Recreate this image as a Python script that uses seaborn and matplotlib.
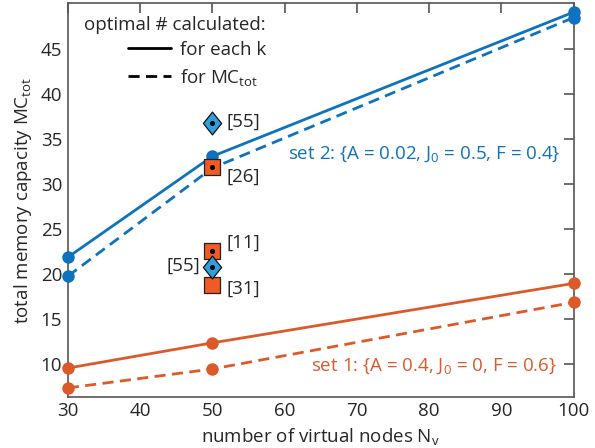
import matplotlib
matplotlib.use("Agg")
import matplotlib.pyplot as plt
from matplotlib.lines import Line2D
from matplotlib.path import Path
import seaborn as sns
import pandas as pd

# ---- data ----
nodes = [30, 50, 100]
set2_each = [21.9, 33.1, 49.1]
set2_mctot = [19.8, 31.8, 48.5]
set1_each = [9.6, 12.4, 19.0]
set1_mctot = [7.4, 9.5, 16.9]

sq_x = [50, 50, 50]
sq_y = [31.9, 22.6, 18.8]
sq_labels = ["[26]", "[11]", "[31]"]
sq_dot = [True, True, False]

dm_x = [50, 50]
dm_y = [36.8, 20.8]
dm_labels = ["[55]", "[55]"]

xticks = [30, 40, 50, 60, 70, 80, 90, 100]
yticks = [10, 15, 20, 25, 30, 35, 40, 45]

BLUE = "#0f72bd"
ORANGE = "#dc5a2a"
SQ_ORANGE = "#f05a24"
DM_BLUE = "#2e9fdc"

sns.set_style("white")
plt.rcParams["font.family"] = ["Open Sans", "DejaVu Sans"]
plt.rcParams["mathtext.fontset"] = "custom"
plt.rcParams["mathtext.rm"] = "Open Sans"
plt.rcParams["mathtext.it"] = "Open Sans"

rows = []
for s, each, mct in [("set2", set2_each, set2_mctot), ("set1", set1_each, set1_mctot)]:
    for x, y in zip(nodes, each):
        rows.append(dict(N=x, MC=y, set=s, kind="each"))
    for x, y in zip(nodes, mct):
        rows.append(dict(N=x, MC=y, set=s, kind="mctot"))
df = pd.DataFrame(rows)

fig = plt.figure(figsize=(5.95, 4.48), dpi=100)
ax = fig.add_axes([0.114, 0.114, 0.850, 0.879])

lw = 2.0
DASH = (4.0, 2.3)
for s, col in [("set2", BLUE), ("set1", ORANGE)]:
    sub = df[df["set"] == s]
    sns.lineplot(data=sub, x="N", y="MC", style="kind",
                 dashes={"each": "", "mctot": DASH},
                 color=col, lw=lw, marker="o", markersize=9,
                 markeredgewidth=0, legend=False, ax=ax, zorder=3,
                 clip_on=False)

diamond = Path([(0, 1), (0.8, 0), (0, -1), (-0.8, 0), (0, 1)],
               [Path.MOVETO, Path.LINETO, Path.LINETO, Path.LINETO, Path.CLOSEPOLY])

refs_sq = pd.DataFrame(dict(N=sq_x, MC=sq_y))
refs_dm = pd.DataFrame(dict(N=dm_x, MC=dm_y))
sns.scatterplot(data=refs_sq, x="N", y="MC", marker="s", s=145,
                color=SQ_ORANGE, edgecolor="#222222", linewidth=0.9,
                ax=ax, zorder=5, legend=False)
sns.scatterplot(data=refs_dm, x="N", y="MC", marker=diamond, s=270,
                color=DM_BLUE, edgecolor="#111111", linewidth=0.9,
                ax=ax, zorder=5, legend=False)
dots_x = [x for x, d in zip(sq_x, sq_dot) if d] + dm_x
dots_y = [y for y, d in zip(sq_y, sq_dot) if d] + dm_y
ax.scatter(dots_x, dots_y, s=7, color="black", zorder=6)

fs = 13.5
offsets_sq = [(14, -10), (14, 8), (14, -4)]
for x, y, t, off in zip(sq_x, sq_y, sq_labels, offsets_sq):
    ax.annotate(t, (x, y), xytext=off, textcoords="offset pixels",
                ha="left", va="center", fontsize=fs)
ax.annotate(dm_labels[0], (dm_x[0], dm_y[0]), xytext=(14, 1), textcoords="offset pixels",
            ha="left", va="center", fontsize=fs)
ax.annotate(dm_labels[1], (dm_x[1], dm_y[1]), xytext=(-12, 1), textcoords="offset pixels",
            ha="right", va="center", fontsize=fs)

ax.text(0.975, 0.616, "set 2: {A = 0.02, J$_0$ = 0.5, F = 0.4}", transform=ax.transAxes,
        ha="right", va="center", color=BLUE, fontsize=fs)
ax.text(0.967, 0.077, "set 1: {A = 0.4, J$_0$ = 0, F = 0.6}", transform=ax.transAxes,
        ha="right", va="center", color=ORANGE, fontsize=fs)

ax.set_xlim(30, 100)
ax.set_ylim(6.4, 50.1)
ax.set_xticks(xticks)
ax.set_yticks(yticks)
ax.tick_params(direction="in", length=7, width=1.2, color="#555555",
               top=True, right=True, labelsize=fs, pad=4)
for sp in ax.spines.values():
    sp.set_color("#555555")
    sp.set_linewidth(1.2)
ax.set_xlabel("number of virtual nodes N$_\\mathrm{v}$", fontsize=fs, labelpad=4)
ax.set_ylabel("total memory capacity MC$_\\mathrm{tot}$", fontsize=fs, labelpad=5)

ax.text(0.031, 0.945, "optimal # calculated:", transform=ax.transAxes,
        ha="left", va="center", fontsize=fs)
handles = [Line2D([], [], color="black", lw=2.0),
           Line2D([], [], color="black", lw=2.0, dashes=DASH)]
ax.legend(handles, ["for each k", "for MC$_\\mathrm{tot}$"], loc="upper left",
          bbox_to_anchor=(0.118, 0.905), frameon=False, fontsize=fs,
          handlelength=2.3, handletextpad=0.5, labelspacing=0.45, borderpad=0,
          borderaxespad=0)

fig.savefig("out.png", dpi=100)
